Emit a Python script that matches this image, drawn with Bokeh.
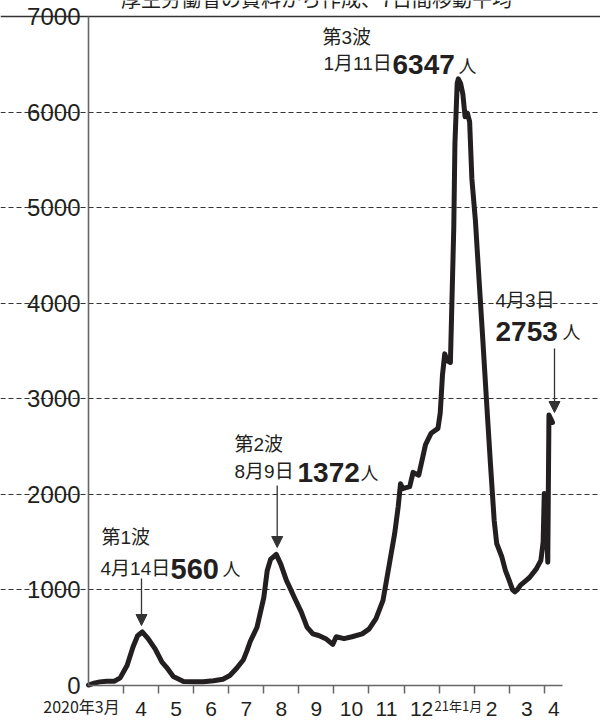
import calendar
from bokeh.plotting import figure
from bokeh.models import Range1d, FixedTicker, LinearAxis, Grid, Arrow, NormalHead
from bokeh.core.properties import value
from bokeh.embed import file_html
from bokeh.resources import INLINE

# ---- data (7-day moving average of new cases) ----
dates = [
    "2020-03-01", "2020-03-06", "2020-03-11", "2020-03-17", "2020-03-24", "2020-03-29",
    "2020-04-04", "2020-04-09", "2020-04-13", "2020-04-17", "2020-04-22", "2020-04-28",
    "2020-05-04", "2020-05-08", "2020-05-14", "2020-05-23", "2020-06-01", "2020-06-09",
    "2020-06-18", "2020-06-26", "2020-07-02", "2020-07-08", "2020-07-14", "2020-07-17",
    "2020-07-20", "2020-07-26", "2020-08-01", "2020-08-04", "2020-08-07", "2020-08-12",
    "2020-08-16", "2020-08-21", "2020-08-23", "2020-08-28", "2020-09-03", "2020-09-08",
    "2020-09-13", "2020-09-18", "2020-09-24", "2020-09-30", "2020-10-03", "2020-10-10",
    "2020-10-17", "2020-10-26", "2020-11-01", "2020-11-07", "2020-11-13", "2020-11-16",
    "2020-11-20", "2020-11-23", "2020-11-26", "2020-11-28", "2020-11-30", "2020-12-06",
    "2020-12-09", "2020-12-14", "2020-12-20", "2020-12-25", "2020-12-31", "2021-01-02",
    "2021-01-04", "2021-01-06", "2021-01-08", "2021-01-11", "2021-01-12", "2021-01-14",
    "2021-01-15", "2021-01-17", "2021-01-18", "2021-01-20", "2021-01-22", "2021-01-24",
    "2021-01-26", "2021-01-28", "2021-01-30", "2021-02-02", "2021-02-05", "2021-02-08",
    "2021-02-11", "2021-02-14", "2021-02-17", "2021-02-19", "2021-02-23", "2021-02-26",
    "2021-03-01", "2021-03-04", "2021-03-06", "2021-03-08", "2021-03-11", "2021-03-15",
    "2021-03-19", "2021-03-25", "2021-03-29", "2021-03-31", "2021-04-01", "2021-04-02",
    "2021-04-04", "2021-04-05", "2021-04-08",
]
cases = [
    5, 25, 38, 45, 45, 80,
    210, 400, 520, 560, 490, 384,
    244, 190, 94, 42, 38, 40,
    50, 66, 105, 180, 270, 360,
    460, 610, 920, 1200, 1320, 1372,
    1270, 1100, 1050, 920, 770, 610,
    540, 523, 490, 430, 510, 490,
    510, 540, 590, 700, 890, 1100,
    1380, 1590, 1870, 2110, 2060, 2080,
    2230, 2200, 2520, 2640, 2690, 2850,
    3250, 3470, 3400, 3380, 3850, 4800,
    5670, 6300, 6347, 6300, 6190, 5950,
    5990, 5900, 5300, 4866, 4227, 3600,
    2951, 2323, 1727, 1486, 1350, 1203,
    1099, 1000, 980, 1000, 1050, 1090,
    1130, 1220, 1310, 1500, 2010, 2000,
    1290, 2830, 2753,
]

# x tick labels (months) and their positions, in months counted from 2020-03-01
axis_month_labels = ["4", "5", "6", "7", "8", "9", "10", "11", "12", "2", "3", "4"]
axis_month_pos = [1.5, 2.5, 3.5, 4.5, 5.5, 6.5, 7.5, 8.5, 9.5, 11.5, 12.5, 13.27]
year_labels = ["2020年3月", "21年1月"]
year_label_pos = [-0.2, 10.55]
year_label_sizes = ["16px", "13px"]
month_bounds = list(range(1, 14))
y_ticks = [0, 1000, 2000, 3000, 4000, 5000, 6000, 7000]

title_text = "厚生労働省の資料から作成、7日間移動平均"


def mpos(s):
    y, m, d = map(int, s.split("-"))
    return (y - 2020) * 12 + (m - 3) + (d - 1) / calendar.monthrange(y, m)[1]


xs = [mpos(s) for s in dates]

# ---- layout: the frame fills the whole canvas; axes sit at x=0 / y=0 ----
W, H = 600, 721
PX0, PY0 = 88, 685          # canvas pixel of (x=0, y=0)
XMAX, YMAX = 13.52, 7000    # extent of the drawn axes
KX = 474 / XMAX             # px per month
KY = 669 / YMAX             # px per case
BASE_FIX = 9                # renderer draws alphabetic baselines ~9px lower


def X(px):
    return (px - PX0) / KX


def Y(py):
    return (PY0 - py) / KY


INK = "#231f20"
AXC = "#666666"

p = figure(width=W, height=H,
           x_range=Range1d(X(0), X(W)), y_range=Range1d(Y(H), Y(0)),
           output_backend="svg", toolbar_location=None,
           x_axis_location=None, y_axis_location=None,
           min_border_left=0, min_border_right=0, min_border_top=0, min_border_bottom=0)
p.outline_line_color = None
p.background_fill_color = "white"
p.border_fill_color = "white"
p.center = []

# y axis
yax = LinearAxis(fixed_location=0, bounds=(0, YMAX), ticker=FixedTicker(ticks=y_ticks))
yax.major_tick_out = 0
yax.major_tick_in = 0
yax.minor_tick_line_color = None
yax.major_label_standoff = 8
yax.major_label_text_font = "Liberation Sans"
yax.major_label_text_font_size = "24px"
yax.major_label_text_color = INK
yax.axis_line_color = AXC
yax.axis_line_width = 1.6
p.add_layout(yax, "left")

# x axis: month-boundary ticks (minor), month labels centred in the month (major)
xax = LinearAxis(fixed_location=0, bounds=(0, XMAX),
                 ticker=FixedTicker(ticks=axis_month_pos, minor_ticks=month_bounds))
xax.major_label_overrides = dict(zip(axis_month_pos, axis_month_labels))
xax.major_tick_line_color = None
xax.major_tick_out = 0
xax.major_tick_in = 0
xax.minor_tick_out = 8
xax.minor_tick_in = 0
xax.minor_tick_line_color = AXC
xax.minor_tick_line_width = 1.5
xax.major_label_standoff = 8
xax.major_label_text_font = "Liberation Sans"
xax.major_label_text_font_size = "21px"
xax.major_label_text_color = INK
xax.axis_line_color = AXC
xax.axis_line_width = 1.6
p.add_layout(xax, "below")

# horizontal grid (dashed) and the solid top rule at 7000
p.add_layout(Grid(dimension=1, ticker=FixedTicker(ticks=y_ticks[1:-1]), bounds=(0, 13.45),
                  grid_line_color="#333333", grid_line_dash="5 3", grid_line_width=1))
p.add_layout(Grid(dimension=1, ticker=FixedTicker(ticks=[YMAX]), bounds=(0, XMAX),
                  grid_line_color="#333333", grid_line_width=1.5))

p.line(xs, cases, line_width=5, line_color=INK, line_join="round", line_cap="round")

# compound month labels (condensed in the source, so smaller here)
p.text(x=year_label_pos, y=[Y(714 - BASE_FIX)] * 2, text=year_labels,
       text_align="center", text_baseline="alphabetic",
       text_font=value("Liberation Sans Narrow, Noto Sans CJK JP"),
       text_font_size="size", source=dict(x=year_label_pos, y=[Y(714 - BASE_FIX)] * 2,
                                          text=year_labels, size=year_label_sizes),
       text_color=INK) if False else None
for txt, xp, fs in zip(year_labels, year_label_pos, year_label_sizes):
    p.text(x=[xp], y=[Y(714 - BASE_FIX)], text=[txt], text_align="center",
           text_baseline="alphabetic",
           text_font=value("Liberation Sans Narrow, Noto Sans CJK JP"),
           text_font_size=value(fs), text_color=INK)

# title, cut at the top edge as in the source
p.text(x=[X(316)], y=[Y(7 - BASE_FIX)], text=[title_text], text_align="center",
       text_baseline="alphabetic", text_font=value("Noto Sans CJK JP"),
       text_font_size=value("20px"), text_color=INK)

# annotations: (text, left px, baseline px, font, size, style)
MIX = "Liberation Sans, Noto Sans CJK JP"
NUM = "Liberation Sans"
CJK = "Noto Sans CJK JP"
ann = [
    ("第1波", 101, 546, MIX, "19px", "normal"),
    ("4月14日", 100, 577, MIX, "19px", "normal"),
    ("560", 170, 577, NUM, "29px", "bold"),
    ("人", 222, 576, CJK, "18px", "normal"),
    ("第2波", 234, 453, MIX, "19px", "normal"),
    ("8月9日", 234, 480, MIX, "19px", "normal"),
    ("1372", 297, 481, NUM, "28px", "bold"),
    ("人", 360, 480, CJK, "18px", "normal"),
    ("第3波", 322, 46, MIX, "19px", "normal"),
    ("1月11日", 323, 72, MIX, "19px", "normal"),
    ("6347", 392, 73, NUM, "28px", "bold"),
    ("人", 458, 73, CJK, "18px", "normal"),
    ("4月3日", 495, 309, MIX, "19px", "normal"),
    ("2753", 495, 340, NUM, "28px", "bold"),
    ("人", 562, 339, CJK, "18px", "normal"),
]
for txt, lx, by, f, fs, st in ann:
    p.text(x=[X(lx)], y=[Y(by - BASE_FIX)], text=[txt], text_align="left",
           text_baseline="alphabetic", text_font=value(f), text_font_size=value(fs),
           text_font_style=st, text_color=INK)

arrows = [(141, 578, 625), (276.7, 485, 547), (554, 348, 412)]
for ax, y0, y1 in arrows:
    p.add_layout(Arrow(x_start=X(ax), y_start=Y(y0), x_end=X(ax), y_end=Y(y1),
                       line_color="#333333", line_width=1.3,
                       end=NormalHead(size=11, fill_color="#333333", line_color="#333333",
                                      line_width=1)))

open("out.html", "w").write(file_html(p, INLINE))
